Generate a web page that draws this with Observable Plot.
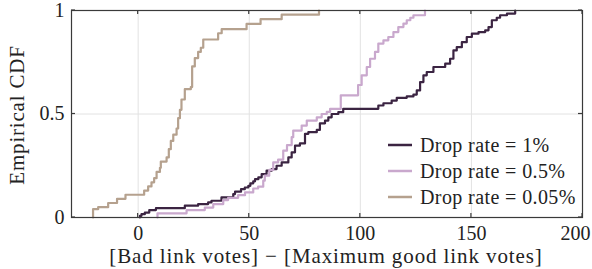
<!DOCTYPE html>
<html>
<head>
<meta charset="utf-8">
<script src="https://cdn.jsdelivr.net/npm/d3@7"></script>
<script src="https://cdn.jsdelivr.net/npm/@observablehq/plot@0.6"></script>
<style>
  html, body { margin: 0; padding: 0; background: #fff; }
  #chart svg { display: block; overflow: visible; }
</style>
</head>
<body>
<div id="chart"></div>
<script>
// ---- data ----
const seriesNames = ["Drop rate = 1%", "Drop rate = 0.5%", "Drop rate = 0.05%"];
const seriesColors = ["#3b2442", "#c9a8cd", "#b5a18e"];

const xDrop1 = [0.8, 0.8, 1.5, 3.0, 5.0, 8.0, 21, 27, 31.5, 33, 37.5, 42.8, 43.6, 46.3, 48, 49.6, 50.5, 51.8, 52.6, 54.1, 55.6, 57.8, 60.1, 62.3, 64.6, 67.6, 69.1, 70.6, 72.8, 75.1, 76.6, 80.4, 81.8, 84.1, 85.6, 87.1, 90.1, 92.3, 108.1, 110.4, 114.1, 116.4, 120.9, 123.9, 125.4, 126.9, 128.4, 129.9, 132.9, 138.2, 140.4, 141.9, 143.4, 145.7, 147.9, 150.2, 153.2, 156.2, 157.7, 159.2, 161.4, 162.9, 166, 169.7];
const yDrop1 = [0, 0.008, 0.016, 0.024, 0.036, 0.045, 0.057, 0.065, 0.073, 0.081, 0.097, 0.113, 0.125, 0.137, 0.145, 0.153, 0.165, 0.175, 0.185, 0.194, 0.21, 0.226, 0.234, 0.25, 0.266, 0.29, 0.315, 0.347, 0.358, 0.404, 0.412, 0.423, 0.455, 0.468, 0.484, 0.5, 0.509, 0.525, 0.541, 0.552, 0.565, 0.578, 0.585, 0.594, 0.614, 0.654, 0.687, 0.703, 0.727, 0.743, 0.767, 0.807, 0.823, 0.847, 0.872, 0.888, 0.896, 0.904, 0.92, 0.953, 0.965, 0.977, 0.985, 1.0];

const xDrop05 = [8.7, 8.7, 21.8, 30, 33.8, 38.3, 40.5, 45, 48.1, 51.8, 54, 56.3, 57, 59, 60.8, 63, 65.3, 67, 69.1, 69.8, 73.6, 75.9, 80.4, 82.6, 84.9, 86.4, 91.2, 99, 100.6, 102.9, 104.4, 106.6, 108.1, 110.4, 112.6, 114.9, 117.1, 119.4, 120.9, 122.5, 123.9, 129.1];
const yDrop05 = [0, 0.02, 0.036, 0.048, 0.065, 0.084, 0.095, 0.108, 0.121, 0.14, 0.149, 0.178, 0.202, 0.23, 0.266, 0.28, 0.323, 0.35, 0.388, 0.42, 0.444, 0.468, 0.484, 0.5, 0.51, 0.525, 0.59, 0.64, 0.687, 0.727, 0.767, 0.80, 0.84, 0.856, 0.872, 0.896, 0.92, 0.937, 0.953, 0.965, 0.977, 1.0];

const xDrop005 = [-20.3, -20.3, -18, -13.5, -9.5, -5.7, 2.7, 4.5, 6.0, 7.2, 8.3, 9.8, 10.2, 12.8, 13.8, 14.7, 15.8, 17.3, 18.0, 18.8, 19.5, 21.0, 23.7, 24.3, 25.5, 27.0, 28.2, 29.3, 36.0, 37.6, 48.8, 55.1, 64.6, 81.4];
const yDrop005 = [0, 0.04, 0.05, 0.07, 0.09, 0.11, 0.13, 0.15, 0.17, 0.19, 0.22, 0.24, 0.27, 0.29, 0.33, 0.37, 0.40, 0.43, 0.48, 0.52, 0.57, 0.62, 0.63, 0.73, 0.77, 0.80, 0.82, 0.86, 0.89, 0.91, 0.935, 0.958, 0.98, 1.0];

const xTicks = [0, 50, 100, 150, 200];
const yTicks = [0, 0.5, 1];
const yTickLabels = ["0", "0.5", "1"];
const xLabel = "[Bad link votes] \u2212 [Maximum good link votes]";
const yLabel = "Empirical CDF";

// ---- table for Plot ----
const seriesX = [xDrop1, xDrop05, xDrop005];
const seriesY = [yDrop1, yDrop05, yDrop005];
const table = [];
seriesNames.forEach((name, i) => {
  seriesX[i].forEach((xv, j) => table.push({series: name, x: xv, y: seriesY[i][j]}));
});

const FONT = "'Liberation Serif', 'DejaVu Serif', serif";
const FS = 20;
const xMax = 200;

const chart = Plot.plot({
  width: 592,
  height: 269,
  marginLeft: 71,
  marginRight: 10,
  marginTop: 10,
  marginBottom: 52,
  style: {fontFamily: FONT, fontSize: FS + "px", background: "#fff", color: "#222"},
  x: {domain: [-30, xMax]},
  y: {domain: [0, 1]},
  color: {domain: seriesNames, range: seriesColors},
  marks: [
    Plot.gridX(xTicks.filter(d => d > -30 && d < xMax), {stroke: "#e2e2e2", strokeOpacity: 1, strokeWidth: 1}),
    Plot.gridY(yTicks.filter(d => d > 0 && d < 1), {stroke: "#e2e2e2", strokeOpacity: 1, strokeWidth: 1}),
    Plot.line(table, {x: "x", y: "y", z: "series", stroke: "series", curve: "step-after", strokeWidth: 2.2}),
    Plot.frame({stroke: "#3a3a3a", strokeWidth: 1.2}),
    Plot.axisX(xTicks.filter(d => d < xMax), {tickSize: 0, tickPadding: 8, fontSize: FS, label: null, fill: "#222",
      tickFormat: d => String(d)}),
    Plot.axisX(xTicks.filter(d => d >= xMax), {tickSize: 0, tickPadding: 8, fontSize: FS, label: null, fill: "#222",
      tickFormat: d => String(d), dx: -7}),
    Plot.axisY(yTicks, {tickSize: 0, tickPadding: 7, fontSize: FS, label: null, fill: "#222",
      textAnchor: "end", tickFormat: (d, i) => yTickLabels[i]})
  ]
});

document.getElementById("chart").appendChild(chart);

// ---- inward ticks on all four sides, axis titles, legend ----
const svg = d3.select(chart);
const sx = chart.scale("x"), sy = chart.scale("y");
const fLeft = 71, fRight = 592 - 10, fTop = 10, fBottom = 269 - 52;
const TL = 4;
const g = svg.append("g").attr("stroke", "#3a3a3a").attr("stroke-width", 1.2);
xTicks.forEach(t => {
  const px = sx.apply(t);
  g.append("line").attr("x1", px).attr("x2", px).attr("y1", fBottom).attr("y2", fBottom - TL);
  g.append("line").attr("x1", px).attr("x2", px).attr("y1", fTop).attr("y2", fTop + TL);
});
yTicks.forEach(t => {
  const py = sy.apply(t);
  g.append("line").attr("y1", py).attr("y2", py).attr("x1", fLeft).attr("x2", fLeft + TL);
  g.append("line").attr("y1", py).attr("y2", py).attr("x1", fRight).attr("x2", fRight - TL);
});

svg.append("text")
  .attr("x", 326).attr("y", 263)
  .attr("text-anchor", "middle")
  .attr("font-family", FONT).attr("font-size", 21).attr("letter-spacing", 0.9).attr("fill", "#222")
  .text(xLabel);

svg.append("text")
  .attr("transform", `translate(24, 115) rotate(-90)`)
  .attr("text-anchor", "middle")
  .attr("font-family", FONT).attr("font-size", 21).attr("letter-spacing", 0.8).attr("fill", "#222")
  .text(yLabel);

const lg = svg.append("g");
seriesNames.forEach((name, i) => {
  const yy = 145 + i * 26;
  lg.append("line").attr("x1", 388).attr("x2", 412).attr("y1", yy).attr("y2", yy)
    .attr("stroke", seriesColors[i]).attr("stroke-width", 2.5);
  lg.append("text").attr("x", 420).attr("y", yy).attr("dy", "0.35em")
    .attr("text-anchor", "start")
    .attr("font-family", FONT).attr("font-size", 20).attr("letter-spacing", 0.4).attr("fill", "#222")
    .text(name);
});
</script>
</body>
</html>
